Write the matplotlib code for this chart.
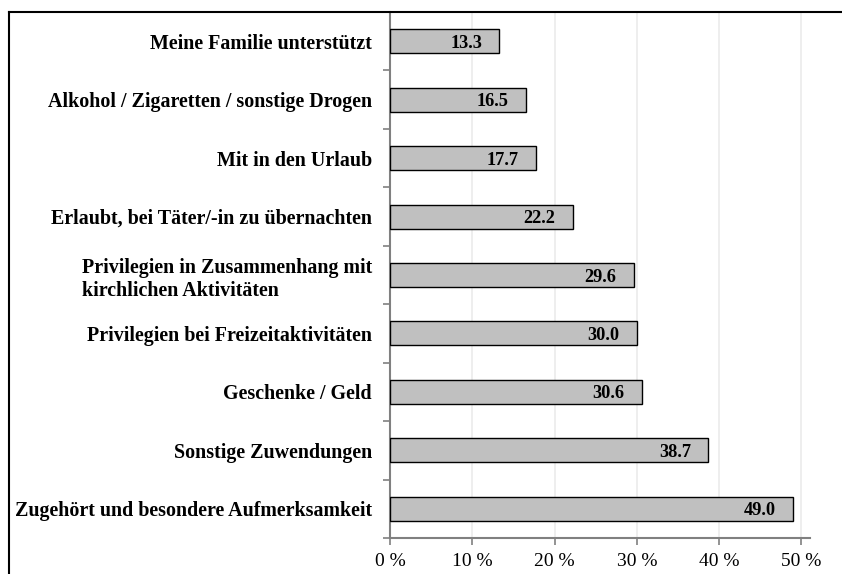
import numpy as np
import matplotlib.pyplot as plt
from matplotlib.lines import Line2D

plt.rcParams['font.family'] = ['Liberation Serif', 'DejaVu Serif']

# Daten (von oben nach unten)
kategorien = ['Meine Familie unterstützt',
              'Alkohol / Zigaretten / sonstige Drogen',
              'Mit in den Urlaub',
              'Erlaubt, bei Täter/-in zu übernachten',
              'Privilegien in Zusammenhang mit\nkirchlichen Aktivitäten',
              'Privilegien bei Freizeitaktivitäten',
              'Geschenke / Geld',
              'Sonstige Zuwendungen',
              'Zugehört und besondere Aufmerksamkeit']
werte = [13.3, 16.5, 17.7, 22.2, 29.6, 30.0, 30.6, 38.7, 49.0]
x_ticks = [0, 10, 20, 30, 40, 50]
x_labels = ['0 %', '10 %', '20 %', '30 %', '40 %', '50 %']

fig = plt.figure(figsize=(8.42, 5.74), dpi=100)
ax = fig.add_axes([0.4632, 0.0627, 0.4984, 0.9163])

y = np.arange(len(kategorien))[::-1]
ax.barh(y, werte, height=0.41, color='#c0c0c0', edgecolor='black', linewidth=1, zorder=3)

for yi, w in zip(y, werte):
    ax.text(w - 2.1, yi, f'{w:.1f}', ha='right', va='center_baseline',
            fontsize=13.2, fontweight='bold', zorder=4)

ax.set_xlim(0, 51)
ax.set_ylim(-0.5, len(kategorien) - 0.5)

ax.set_xticks(x_ticks)
ax.set_xticklabels(x_labels, fontsize=14)
ax.tick_params(axis='x', length=5, color='#808080', width=1.2, pad=6)

ax.set_yticks(y)
ax.set_yticklabels(kategorien, fontsize=14.4, fontweight='bold', multialignment='left')
ax.tick_params(axis='y', which='major', length=0, pad=13)
ax.set_yticks(np.arange(-0.5, len(kategorien) - 1), minor=True)
ax.tick_params(axis='y', which='minor', length=5, color='#808080', width=1.2)

ax.grid(axis='x', color='#ebebeb', linewidth=1.2, zorder=0)
ax.set_axisbelow(True)

for s in ['top', 'right']:
    ax.spines[s].set_visible(False)
for s in ['left', 'bottom']:
    ax.spines[s].set_color('#808080')
    ax.spines[s].set_linewidth(1.5)

# Rahmen um das Diagramm
fig.add_artist(Line2D([9 / 842, 9 / 842], [0, 1 - 12 / 574], color='black', linewidth=1.5))
fig.add_artist(Line2D([9 / 842, 1], [1 - 12 / 574, 1 - 12 / 574], color='black', linewidth=1.5))

fig.savefig('out.png', dpi=100)
